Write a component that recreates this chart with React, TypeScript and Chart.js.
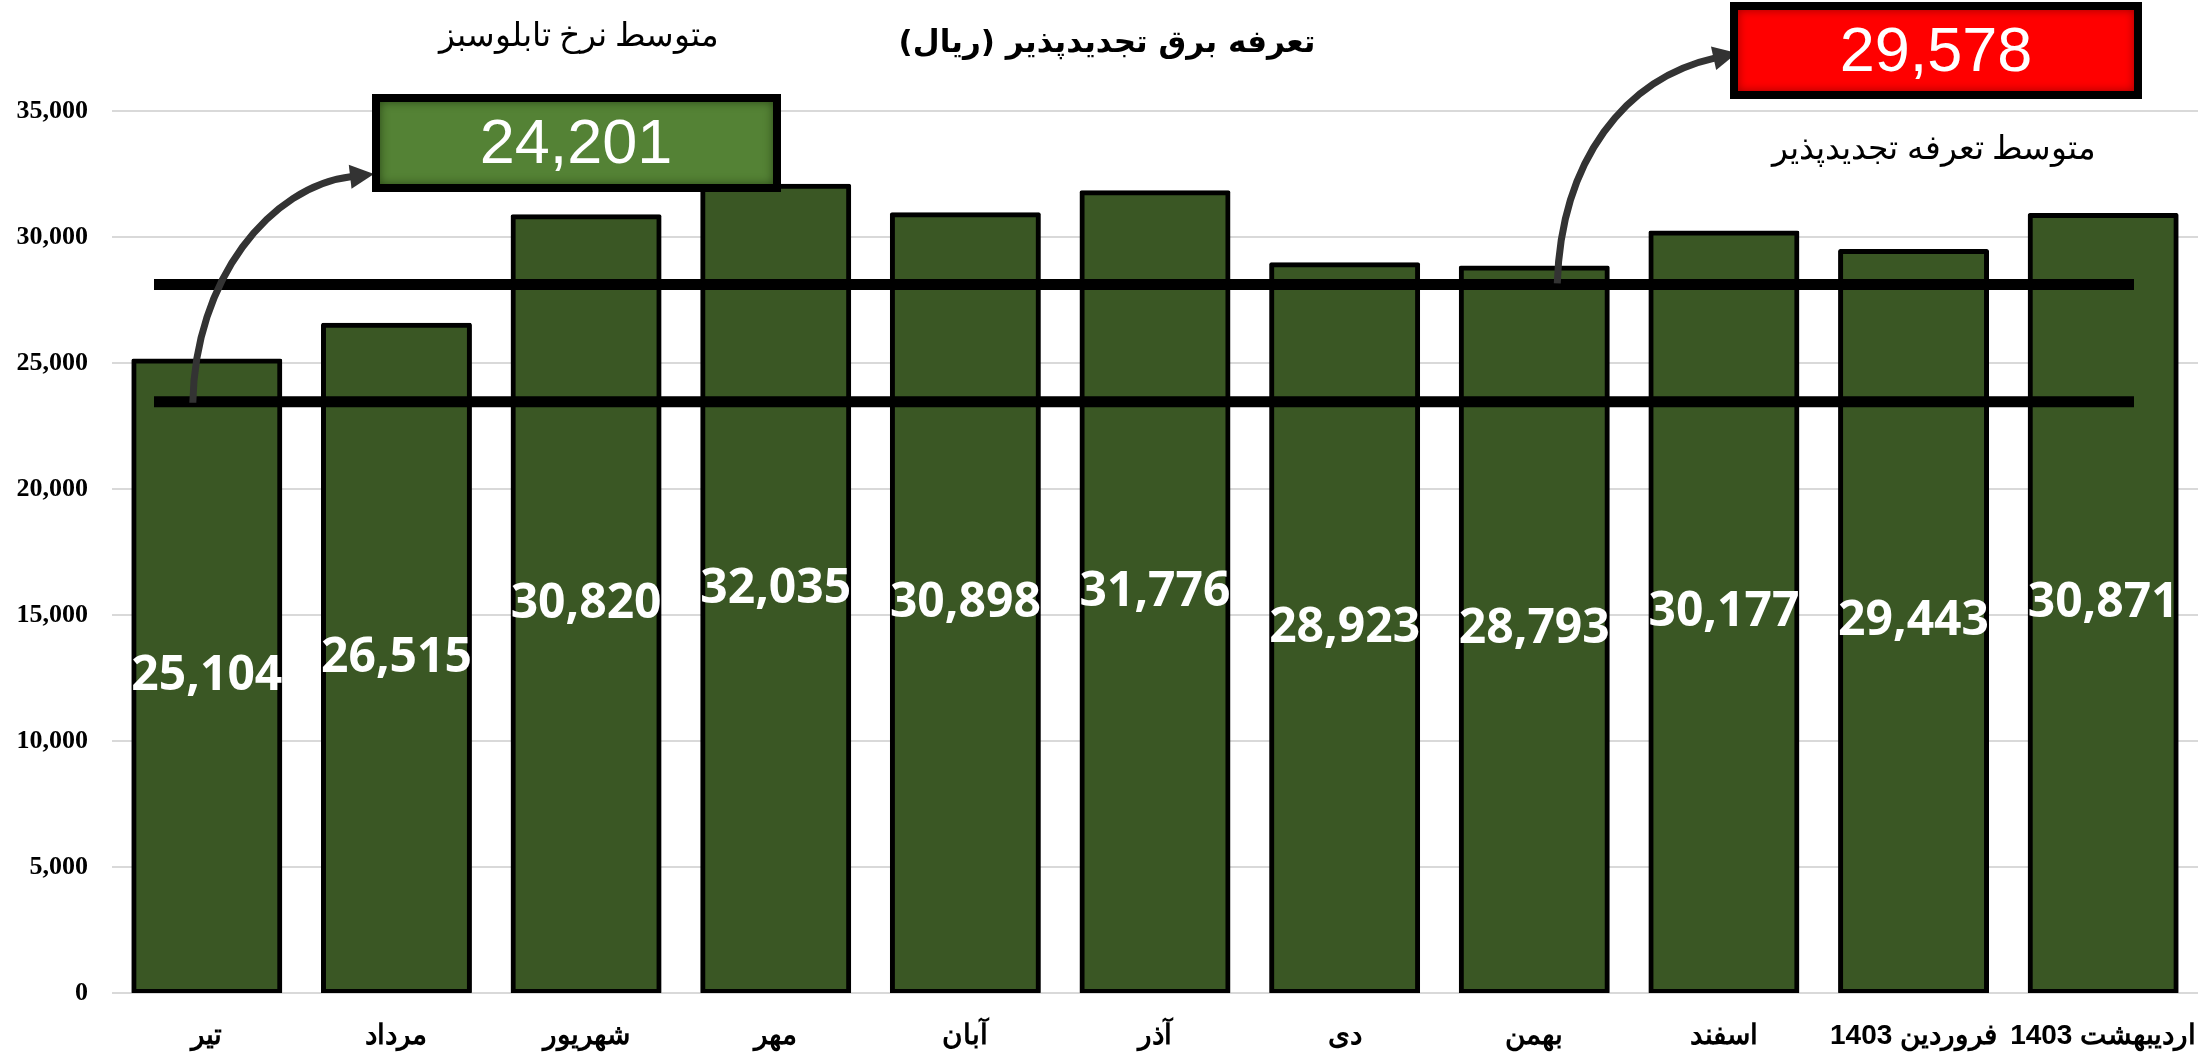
import React, { useEffect, useRef } from "react";
import { Chart, registerables } from "chart.js";

Chart.register(...registerables);

// ---------- data ----------
const categories: string[] = [
  "تیر",
  "مرداد",
  "شهریور",
  "مهر",
  "آبان",
  "آذر",
  "دی",
  "بهمن",
  "اسفند",
  "فروردین 1403",
  "اردیبهشت 1403",
];
const tariffValues: number[] = [25104, 26515, 30820, 32035, 30898, 31776, 28923, 28793, 30177, 29443, 30871];
const yTickValues: number[] = [0, 5000, 10000, 15000, 20000, 25000, 30000, 35000];
const greenBoardAverage = 24201;
const renewableAverage = 29578;
// the two black reference lines as drawn in the picture
const upperLineValue = 28120;
const lowerLineValue = 23460;

const titleText = "تعرفه برق تجدیدپذیر (ریال)";
const greenBoardLabel = "متوسط نرخ تابلوسبز";
const renewableLabel = "متوسط تعرفه تجدیدپذیر";

const fmt = (v: number) => v.toLocaleString("en-US");

function drawBox(ctx: CanvasRenderingContext2D, x: number, y: number, w: number, h: number, fill: string, edge: string) {
  const b = 8;
  ctx.save();
  ctx.fillStyle = "#000";
  ctx.fillRect(x, y, w, h);
  const ix = x + b, iy = y + b, iw = w - 2 * b, ih = h - 2 * b;
  ctx.fillStyle = fill;
  ctx.fillRect(ix, iy, iw, ih);
  ctx.beginPath();
  ctx.rect(ix, iy, iw, ih);
  ctx.clip();
  ctx.shadowColor = edge;
  ctx.shadowBlur = 10;
  ctx.strokeStyle = edge;
  ctx.lineWidth = 10;
  ctx.strokeRect(ix - 5, iy - 5, iw + 10, ih + 10);
  ctx.restore();
}

function drawArrow(
  ctx: CanvasRenderingContext2D,
  p0: [number, number],
  c1: [number, number],
  c2: [number, number],
  tip: [number, number]
) {
  const head = 24;
  const dx = tip[0] - c2[0];
  const dy = tip[1] - c2[1];
  const len = Math.hypot(dx, dy);
  const ux = dx / len, uy = dy / len;
  const bx = tip[0] - ux * head, by = tip[1] - uy * head;
  ctx.save();
  ctx.strokeStyle = "#333333";
  ctx.fillStyle = "#333333";
  ctx.lineWidth = 7;
  ctx.lineCap = "butt";
  ctx.beginPath();
  ctx.moveTo(p0[0], p0[1]);
  ctx.bezierCurveTo(c1[0], c1[1], c2[0], c2[1], bx + ux * 2, by + uy * 2);
  ctx.stroke();
  const px = -uy, py = ux;
  ctx.beginPath();
  ctx.moveTo(tip[0], tip[1]);
  ctx.lineTo(bx + px * 12, by + py * 12);
  ctx.lineTo(bx - px * 12, by - py * 12);
  ctx.closePath();
  ctx.fill();
  ctx.restore();
}

const annotationPlugin = {
  id: "annotations",
  afterDatasetsDraw(chart: any) {
    const ctx: CanvasRenderingContext2D = chart.ctx;
    const area = chart.chartArea;
    const yScale = chart.scales.y;
    const xScale = chart.scales.x;
    const meta = chart.getDatasetMeta(0);

    // bar value labels
    ctx.save();
    ctx.fillStyle = "#ffffff";
    ctx.font = "bold 48px 'Open Sans'";
    ctx.textAlign = "center";
    ctx.textBaseline = "middle";
    meta.data.forEach((bar: any, i: number) => {
      const mid = (bar.y + bar.base) / 2;
      ctx.fillText(fmt(tariffValues[i]), bar.x, mid);
    });
    ctx.restore();

    // reference lines
    const yUp = yScale.getPixelForValue(upperLineValue);
    const yLow = yScale.getPixelForValue(lowerLineValue);
    ctx.save();
    ctx.strokeStyle = "#000";
    ctx.lineWidth = 11;
    ctx.lineCap = "butt";
    [yUp, yLow].forEach((yy) => {
      ctx.beginPath();
      ctx.moveTo(area.left + 42, yy);
      ctx.lineTo(area.right - 64, yy);
      ctx.stroke();
    });
    ctx.restore();

    // arrows
    const ax0 = xScale.getPixelForValue(0) - 14;
    drawArrow(ctx, [ax0, yLow + 1], [ax0 + 2, 280], [270, 186], [374, 174]);
    const ax1 = xScale.getPixelForValue(7) + 23;
    drawArrow(ctx, [ax1, yUp - 1], [ax1 + 4, 160], [1625, 78], [1737, 53]);

    // boxes
    drawBox(ctx, 372, 94, 409, 98, "#548235", "#2C4A18");
    drawBox(ctx, 1730, 2, 412, 97, "#FF0000", "#A00000");
    ctx.save();
    ctx.fillStyle = "#ffffff";
    ctx.textAlign = "center";
    ctx.textBaseline = "middle";
    ctx.font = "63px 'Liberation Sans'";
    ctx.fillText(fmt(greenBoardAverage), 576, 146);
    ctx.fillText(fmt(renewableAverage), 1936, 54);

    // texts
    ctx.fillStyle = "#000";
    ctx.font = "bold 31px 'DejaVu Sans'";
    ctx.fillText(titleText, 1107, 44);
    ctx.font = "33px 'Liberation Serif'";
    ctx.fillText(greenBoardLabel, 579, 37);
    ctx.fillText(renewableLabel, 1934, 150);
    ctx.restore();
  },
};

export default function App() {
  const canvasRef = useRef<HTMLCanvasElement | null>(null);

  useEffect(() => {
    document.body.style.margin = "0";
    const canvas = canvasRef.current;
    if (!canvas) return;
    const chart = new Chart(canvas, {
      type: "bar",
      data: {
        labels: categories,
        datasets: [
          {
            data: tariffValues,
            backgroundColor: "#3A5724",
            borderColor: "#000000",
            borderWidth: 5,
            borderSkipped: false,
            borderRadius: 2,
            inflateAmount: 2,
            barPercentage: 0.775,
            categoryPercentage: 1,
          },
        ],
      },
      options: {
        responsive: false,
        devicePixelRatio: 1,
        animation: false,
        layout: { padding: { top: 111, left: 0, right: 4, bottom: 0 } },
        plugins: {
          legend: { display: false },
          tooltip: { enabled: false },
          title: { display: false },
        },
        scales: {
          x: {
            grid: { display: false, drawTicks: false },
            border: { display: false },
            ticks: {
              color: "#000",
              font: { family: "'Liberation Sans'", size: 28, weight: "bold" },
              padding: 26,
              maxRotation: 0,
              autoSkip: false,
            },
            afterFit: (scale: any) => {
              scale.height = 66;
              scale.paddingLeft = 0;
              scale.paddingRight = 0;
            },
          },
          y: {
            min: 0,
            max: 35000,
            afterBuildTicks: (scale: any) => {
              scale.ticks = yTickValues.map((v) => ({ value: v }));
            },
            grid: { color: "#D9D9D9", lineWidth: 2, drawTicks: false },
            border: { display: false },
            ticks: {
              color: "#000",
              font: { family: "'Liberation Serif'", size: 26, weight: "bold" },
              padding: 24,
              callback: (v: any) => fmt(Number(v)),
            },
            afterFit: (scale: any) => {
              scale.width = 112;
              scale.paddingTop = 0;
              scale.paddingBottom = 0;
            },
          },
        },
      },
      plugins: [annotationPlugin],
    });
    return () => chart.destroy();
  }, []);

  return (
    <div style={{ position: "fixed", left: 0, top: 0, width: 2202, height: 1059, background: "#ffffff" }}>
      <canvas
        ref={canvasRef}
        width={2202}
        height={1059}
        dir="rtl"
        style={{ display: "block", width: 2202, height: 1059 }}
      />
    </div>
  );
}
